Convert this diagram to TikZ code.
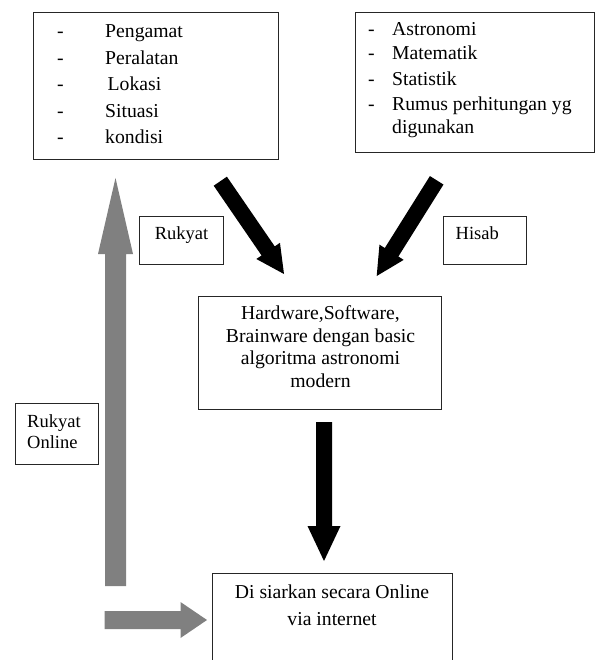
\documentclass[tikz,border=0pt]{standalone}
\usepackage{fontspec}
\setmainfont{Liberation Serif}
\usetikzlibrary{calc}
\tikzset{
  boxframe/.style={draw=black!85, line width=1pt, inner sep=0pt, fill=none},
  txt/.style={inner sep=0pt, font=\fontsize{19.7}{23}\selectfont},
  lbl/.style={inner sep=0pt, font=\fontsize{18.5}{21}\selectfont},
}
\newcommand\blockarrow[6]{% color, tail, tip, shaft half width, head half width, head length
  \fill[#1] ($(#2)!#4!90:(#3)$) -- ($($(#3)!#6!(#2)$)!#4!-90:(#2)$) -- ($($(#3)!#6!(#2)$)!#5!-90:(#2)$) -- (#3)
    -- ($($(#3)!#6!(#2)$)!#5!90:(#2)$) -- ($($(#3)!#6!(#2)$)!#4!90:(#2)$) -- ($(#2)!#4!-90:(#3)$) -- cycle;}
\begin{document}
\begin{tikzpicture}[x=1pt,y=-1pt]
\useasboundingbox (0,0) rectangle (596,660);
\clip (0,0) rectangle (596,660);
\fill[white] (0,0) rectangle (596,660);
% boxes
\node[boxframe, minimum width=245pt, minimum height=147pt] (obs) at (155.5,86.5) {};
\node[boxframe, minimum width=238.5pt, minimum height=140pt] (calc) at (474.75,83) {};
\node[boxframe, minimum width=83.5pt, minimum height=48pt] (ruk) at (181.25,240) {};
\node[boxframe, minimum width=83pt, minimum height=48pt] (his) at (484.5,240) {};
\node[boxframe, minimum width=243.5pt, minimum height=112.5pt] (hw) at (320,353) {};
\node[boxframe, minimum width=83pt, minimum height=61pt] (rol) at (56.5,433.5) {};
\node[boxframe, minimum width=240pt, minimum height=140pt] (web) at (332,643) {};
% left list
\foreach \y/\t/\xx in {38/Pengamat/105, 65/Peralatan/105, 91/Lokasi/107.5, 118/Situasi/105, 144/kondisi/105}{
  \node[txt, anchor=base west] at (57,\y) {-};
  \node[txt, anchor=base west] at (\xx,\y) {\t};
}
% right list
\foreach \y/\t in {36/Astronomi, 60/Matematik, 85.5/Statistik, 110.5/Rumus perhitungan yg}{
  \node[txt, anchor=base west] at (368,\y) {-};
  \node[txt, anchor=base west] at (392,\y) {\t};
}
\node[txt, anchor=base west] at (392,134) {digunakan};
% labels
\node[lbl, anchor=base] at (181.5,239) {Rukyat};
\node[lbl, anchor=base west] at (455.5,239) {Hisab};
\node[lbl, anchor=base west] at (27,427.3) {Rukyat};
\node[lbl, anchor=base west] at (27,448.3) {Online};
% middle text
\node[txt, anchor=base] at (320.5,319.5) {Hardware,Software,};
\node[txt, anchor=base] at (320.5,342) {Brainware dengan basic};
\node[txt, anchor=base] at (320.5,364.5) {algoritma astronomi};
\node[txt, anchor=base] at (320.5,387) {modern};
% bottom text
\node[txt, anchor=base] at (332,598.3) {Di siarkan secara Online};
\node[txt, anchor=base] at (332,625.7) {via internet};
% arrow coordinates
\coordinate (a1) at (220.3,181.2); \coordinate (b1) at (284,274);
\coordinate (a2) at (436.7,180.3); \coordinate (b2) at (376.7,276);
\coordinate (a3) at (324,422);     \coordinate (b3) at (324,561);
\coordinate (a4) at (115.5,586);   \coordinate (b4) at (115.5,178);
\coordinate (a5) at (104.5,620);   \coordinate (b5) at (207,620);
\blockarrow{black}{a1}{b1}{8pt}{14.3pt}{28pt}
\blockarrow{black}{a2}{b2}{8pt}{14.3pt}{28pt}
\blockarrow{black}{a3}{b3}{8pt}{16.5pt}{35pt}
\blockarrow{black!50}{a4}{b4}{10.5pt}{17.5pt}{76pt}
\blockarrow{black!50}{a5}{b5}{9pt}{18pt}{26.5pt}
\end{tikzpicture}
\end{document}
